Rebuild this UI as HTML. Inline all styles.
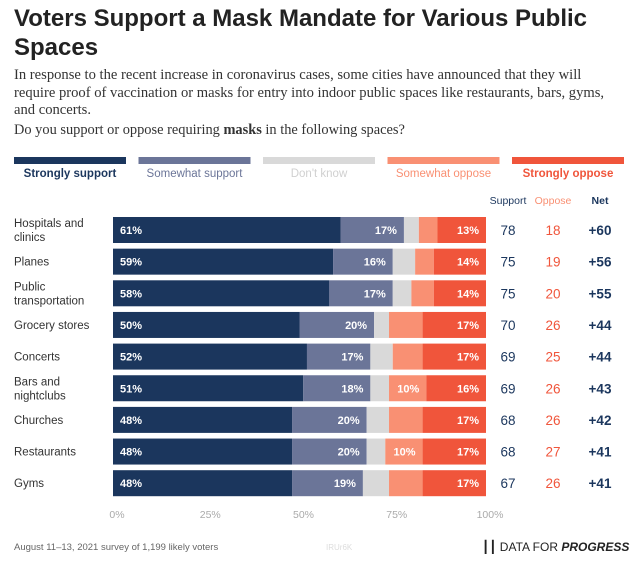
<!DOCTYPE html>
<html><head><meta charset="utf-8"><style>
body{margin:0;width:640px;height:564px;background:#fff;font-family:"Liberation Sans",sans-serif;overflow:hidden;position:relative}
.t{position:absolute;margin:0}
</style></head><body>
<h1 class="t" style="left:14px;top:4px;font-size:24px;line-height:29px;color:#222;font-weight:bold;width:600px">Voters Support a Mask Mandate for Various Public Spaces</h1>
<p class="t" style="left:14px;top:67px;width:612px;font-family:'Liberation Serif',serif;font-size:14.6px;line-height:17.5px;color:#333">In response to the recent increase in coronavirus cases, some cities have announced that they will require proof of vaccination or masks for entry into indoor public spaces like restaurants, bars, gyms, and concerts.</p>
<p class="t" style="left:14px;top:122px;font-family:'Liberation Serif',serif;font-size:14.4px;color:#333">Do you support or oppose requiring <b>masks</b> in the following spaces?</p>
<svg id="c" width="640" height="564" style="position:absolute;left:0;top:0"></svg>
<script>
const categories=["Hospitals and|clinics","Planes","Public|transportation","Grocery stores","Concerts","Bars and|nightclubs","Churches","Restaurants","Gyms"];
const stronglySupport=[61,59,58,50,52,51,48,48,48];
const somewhatSupport=[17,16,17,20,17,18,20,20,19];
const dontKnow=[4,6,5,4,6,5,6,5,7];
const somewhatOppose=[5,5,6,9,8,10,9,10,9];
const stronglyOppose=[13,14,14,17,17,16,17,17,17];
const supportTotals=[78,75,75,70,69,69,68,68,67];
const opposeTotals=[18,19,20,26,25,26,26,27,26];
const netValues=["+60","+56","+55","+44","+44","+43","+42","+41","+41"];
const ticks=[0,25,50,75,100];
const legendLabels=["Strongly support","Somewhat support","Don't know","Somewhat oppose","Strongly oppose"];
const colors=["#1b365d","#6b7598","#d9d9d9","#f99073","#f0553b"];
const textCols=["#1b365d","#6b7598","#d0d0d0","#f99073","#f0553b"];
const svg=document.getElementById('c');const NS="http://www.w3.org/2000/svg";
function mk(tag,a,txt){const e=document.createElementNS(NS,tag);for(const k in a)e.setAttribute(k,a[k]);if(txt!=null)e.textContent=txt;svg.appendChild(e);return e;}
const x0=113,x1=486;const xs=v=>x0+(x1-x0)*v/100;
const ys=i=>230+i*31.65;
legendLabels.forEach((l,i)=>{const lx=14+i*124.5;
 const r=mk('rect',{x:lx,y:157,width:112,height:7,fill:colors[i]});
 
 const t=mk('text',{x:lx+56,y:177,'text-anchor':'middle','font-size':11.5,fill:textCols[i],'font-weight':i==0||i==4?'bold':'normal'},l);
 });
[["Support",508,"#1b365d","normal"],["Oppose",553,"#f99073","normal"],["Net",600,"#1b365d","bold"]].forEach(h=>{
 const t=mk('text',{x:h[1],y:204,'text-anchor':'middle','font-size':10.5,fill:h[2],'font-weight':h[3]},h[0]);
 });
const series=[stronglySupport,somewhatSupport,dontKnow,somewhatOppose,stronglyOppose];
categories.forEach((c,i)=>{const cy=ys(i);
 const parts=c.split('|');
 parts.forEach((p,j)=>{const t=mk('text',{x:14,y:cy+4+(parts.length==2?(j==0?-7:7):0),'font-size':11.5,fill:'#333'},p);
  });
 let acc=0;
 series.forEach((s,k)=>{const v=s[i];
  const r=mk('rect',{x:xs(acc),y:cy-13,width:xs(acc+v)-xs(acc),height:26,fill:colors[k]});
  
  if(k!=2&&v>=10){const t=mk('text',{x:k==0?xs(acc)+7:xs(acc+v)-7,y:cy+4,'text-anchor':k==0?'start':'end','font-size':11,'font-weight':'bold',fill:'#fff'},v+'%');
   }
  acc+=v;});
 [[supportTotals[i],508,"#1b365d","normal"],[opposeTotals[i],553,"#f0553b","normal"],[netValues[i],600,"#1b365d","bold"]].forEach(h=>{
  const t=mk('text',{x:h[1],y:cy+5,'text-anchor':'middle','font-size':13.5,fill:h[2],'font-weight':h[3]},h[0]);
  });
});
ticks.forEach(v=>{const t=mk('text',{x:xs(v)+4,y:518,'text-anchor':'middle','font-size':10.5,fill:'#aaa'},v+'%');
 });
</script>
<div class="t" style="left:14px;top:542px;font-size:9.5px;color:#666">August 11–13, 2021 survey of 1,199 likely voters</div>
<div class="t" style="left:326px;top:543px;font-size:8px;color:#ddd">IRUr6K</div>
<div class="t" style="left:482px;top:540px;font-size:12px;color:#222;white-space:nowrap">&#x2503;&#x2503; DATA FOR <b><i>PROGRESS</i></b></div>
</body></html>
